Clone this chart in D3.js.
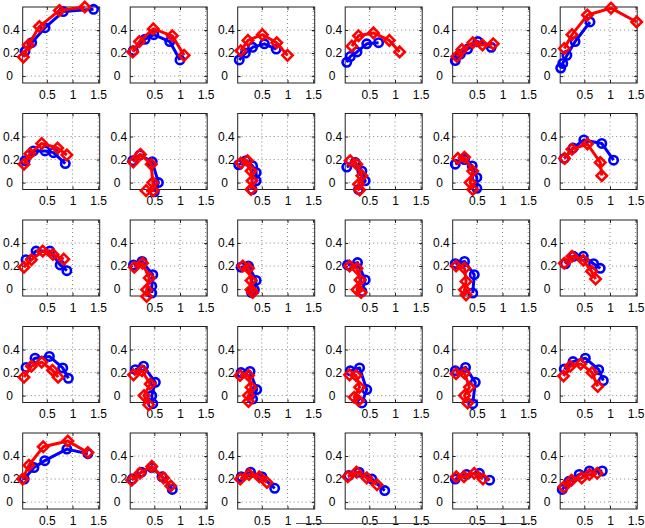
<!DOCTYPE html>
<html><head><meta charset="utf-8">
<script src="https://cdn.jsdelivr.net/npm/d3@7"></script>
<style>html,body{margin:0;padding:0;background:#fff}svg{display:block}</style>
</head><body>
<script>
const xTicks = [0.5, 1, 1.5];
const yTicks = [0, 0.2, 0.4];
const xDomain = [0.03, 1.53];
const yDomain = [-0.06, 0.6];

// blue series (circles), one array of [x,y] per panel, row by row
const blueData = [
  [[0.075,0.215],[0.205,0.29],[0.465,0.42],[0.82,0.56],[1.41,0.58]],
  [[0.09,0.22],[0.32,0.32],[0.49,0.36],[0.80,0.30],[1.0,0.14]],
  [[0.06,0.14],[0.18,0.20],[0.32,0.25],[0.55,0.28],[0.78,0.235]],
  [[0.06,0.12],[0.13,0.17],[0.26,0.21],[0.45,0.28],[0.68,0.29]],
  [[0.08,0.135],[0.18,0.19],[0.32,0.235],[0.52,0.30],[0.78,0.25]],
  [[0.04,0.07],[0.08,0.11],[0.16,0.18],[0.32,0.30],[0.61,0.47]],

  [[0.075,0.19],[0.24,0.275],[0.465,0.275],[0.63,0.26],[0.86,0.165]],
  [[0.08,0.19],[0.22,0.24],[0.46,0.18],[0.58,0.0],[0.50,-0.08]],
  [[0.05,0.155],[0.19,0.19],[0.32,0.145],[0.39,0.087],[0.39,0.015],[0.31,-0.06]],
  [[0.06,0.135],[0.225,0.175],[0.355,0.10],[0.42,0.015],[0.29,-0.06]],
  [[0.08,0.16],[0.26,0.20],[0.41,0.145],[0.50,0.045],[0.50,-0.05]],
  [[0.11,0.21],[0.28,0.30],[0.49,0.37],[0.84,0.34],[1.07,0.195]],

  [[0.095,0.255],[0.29,0.33],[0.56,0.33],[0.76,0.21],[0.89,0.16]],
  [[0.095,0.21],[0.26,0.24],[0.47,0.125],[0.45,0.025],[0.45,-0.035]],
  [[0.095,0.19],[0.24,0.20],[0.39,0.075],[0.355,-0.006],[0.30,-0.03]],
  [[0.075,0.21],[0.27,0.23],[0.42,0.08],[0.355,-0.02]],
  [[0.08,0.22],[0.26,0.24],[0.45,0.125],[0.42,-0.035]],
  [[0.13,0.22],[0.29,0.285],[0.48,0.285],[0.68,0.22],[0.81,0.18]],

  [[0.095,0.245],[0.27,0.325],[0.55,0.34],[0.81,0.24],[0.92,0.15]],
  [[0.13,0.225],[0.29,0.255],[0.52,0.115],[0.45,0.0],[0.47,-0.07]],
  [[0.095,0.20],[0.27,0.21],[0.40,0.052],[0.32,-0.03]],
  [[0.13,0.215],[0.31,0.24],[0.45,0.052],[0.355,-0.064]],
  [[0.08,0.215],[0.28,0.245],[0.47,0.115],[0.42,-0.07]],
  [[0.11,0.23],[0.28,0.295],[0.52,0.325],[0.78,0.225],[0.87,0.13]],

  [[0.06,0.2],[0.25,0.3],[0.46,0.36],[0.89,0.46],[1.3,0.42]],
  [[0.07,0.2],[0.25,0.26],[0.45,0.3],[0.65,0.22],[0.85,0.11]],
  [[0.1,0.22],[0.28,0.26],[0.5,0.22],[0.75,0.12]],
  [[0.1,0.23],[0.3,0.26],[0.55,0.2],[0.8,0.1]],
  [[0.08,0.2],[0.3,0.24],[0.55,0.25],[0.75,0.19]],
  [[0.07,0.11],[0.2,0.18],[0.4,0.24],[0.6,0.27],[0.85,0.27]]
];

// red series (diamonds)
const redData = [
  [[0.043,0.165],[0.14,0.27],[0.355,0.43],[0.745,0.57],[1.24,0.6]],
  [[0.08,0.21],[0.21,0.30],[0.48,0.41],[0.85,0.35],[1.08,0.18]],
  [[0.09,0.22],[0.23,0.31],[0.51,0.36],[0.79,0.29],[1.0,0.18]],
  [[0.16,0.26],[0.29,0.35],[0.58,0.375],[0.89,0.31],[1.09,0.21]],
  [[0.11,0.17],[0.21,0.23],[0.42,0.29],[0.61,0.27],[0.82,0.28]],
  [[0.11,0.24],[0.26,0.36],[0.56,0.53],[1.02,0.59],[1.52,0.47]],

  [[0.055,0.16],[0.17,0.25],[0.40,0.34],[0.71,0.30],[0.89,0.24]],
  [[0.09,0.18],[0.23,0.245],[0.44,0.16],[0.47,0.0],[0.48,-0.07],[0.34,-0.07]],
  [[0.09,0.17],[0.22,0.19],[0.29,0.10],[0.31,0.015],[0.29,-0.06]],
  [[0.125,0.19],[0.255,0.16],[0.355,0.06],[0.29,-0.015],[0.31,-0.065]],
  [[0.13,0.21],[0.26,0.22],[0.42,0.10],[0.37,0.0],[0.42,-0.06]],
  [[0.115,0.21],[0.26,0.29],[0.56,0.335],[0.81,0.175],[0.84,0.06]],

  [[0.055,0.19],[0.2,0.255],[0.42,0.33],[0.62,0.30],[0.83,0.26]],
  [[0.11,0.19],[0.27,0.225],[0.40,0.097],[0.35,-0.006],[0.35,-0.064]],
  [[0.13,0.2],[0.24,0.18],[0.29,0.075],[0.29,-0.006],[0.32,-0.03]],
  [[0.115,0.20],[0.26,0.18],[0.32,0.08],[0.26,-0.006],[0.34,-0.03]],
  [[0.095,0.20],[0.26,0.18],[0.29,0.067],[0.26,-0.006],[0.29,-0.05]],
  [[0.11,0.225],[0.26,0.285],[0.48,0.25],[0.64,0.155],[0.72,0.087]],

  [[0.055,0.16],[0.2,0.255],[0.4,0.29],[0.61,0.22],[0.72,0.16]],
  [[0.095,0.18],[0.26,0.215],[0.42,0.10],[0.30,0.0],[0.39,-0.08]],
  [[0.075,0.175],[0.24,0.175],[0.29,0.072],[0.24,0.0],[0.24,-0.052]],
  [[0.115,0.18],[0.24,0.175],[0.31,0.072],[0.205,-0.015],[0.29,-0.043]],
  [[0.095,0.19],[0.26,0.195],[0.355,0.072],[0.26,0.0],[0.32,-0.064]],
  [[0.095,0.17],[0.225,0.255],[0.43,0.275],[0.65,0.20],[0.76,0.08]],

  [[0.03,0.2],[0.15,0.32],[0.43,0.48],[0.91,0.53],[1.3,0.43]],
  [[0.06,0.19],[0.22,0.25],[0.45,0.31],[0.68,0.21],[0.82,0.14]],
  [[0.08,0.2],[0.25,0.24],[0.45,0.22],[0.6,0.17]],
  [[0.08,0.22],[0.25,0.26],[0.45,0.21],[0.65,0.15]],
  [[0.1,0.22],[0.25,0.22],[0.45,0.25],[0.62,0.2]],
  [[0.1,0.13],[0.25,0.19],[0.45,0.21],[0.6,0.24],[0.75,0.25]]
];

const W = 645, H = 528;
const nRows = 5, nCols = 6;
const col0 = 22.7, colStep = 107.5, pw = 77;
const row0 = 7, rowStep = 106.5, ph = 76;

const svg = d3.select("body").append("svg").attr("width", W).attr("height", H);

const x = d3.scaleLinear().domain(xDomain).range([0, pw]);
const y = d3.scaleLinear().domain(yDomain).range([ph, 0]);
const line = d3.line().x(d => x(d[0])).y(d => y(d[1]));
const diamond = r => `M0,${-r}L${r},0L0,${r}L${-r},0Z`;
const font = "'Liberation Sans', Arial, Helvetica, sans-serif";

for (let i = 0; i < nRows * nCols; i++) {
  const r = Math.floor(i / nCols), c = i % nCols;
  const g = svg.append("g").attr("transform", `translate(${col0 + c * colStep},${row0 + r * rowStep})`);

  // grid
  g.append("g").selectAll("line").data(xTicks).join("line")
    .attr("x1", d => x(d)).attr("x2", d => x(d)).attr("y1", 0).attr("y2", ph)
    .attr("stroke", "#666").attr("stroke-width", 0.8).attr("stroke-dasharray", "1,3");
  g.append("g").selectAll("line").data(yTicks).join("line")
    .attr("y1", d => y(d)).attr("y2", d => y(d)).attr("x1", 0).attr("x2", pw)
    .attr("stroke", "#666").attr("stroke-width", 0.8).attr("stroke-dasharray", "1,3");

  // axes
  g.append("g").attr("transform", `translate(0,${ph})`)
    .call(d3.axisBottom(x).tickValues(xTicks).tickSize(-3).tickPadding(7).tickFormat(d3.format("")));
  g.append("g")
    .call(d3.axisLeft(y).tickValues(yTicks).tickSize(-3).tickPadding(3)
      .tickFormat(d => d === 0 ? "0\u00a0\u00a0" : d3.format(".1f")(d)));
  g.append("g").call(d3.axisTop(x).tickValues(xTicks).tickSize(-3).tickFormat(""));
  g.append("g").attr("transform", `translate(${pw},0)`)
    .call(d3.axisRight(y).tickValues(yTicks).tickSize(-3).tickFormat(""));
  g.selectAll(".domain").remove();
  g.selectAll(".tick line").attr("stroke", "#222");
  g.selectAll(".tick text").attr("font-family", font).attr("font-size", 12).attr("fill", "#000");

  g.append("rect").attr("width", pw).attr("height", ph)
    .attr("fill", "none").attr("stroke", "#222").attr("stroke-width", 1);

  // series
  const blue = blueData[i], red = redData[i];
  g.append("path").datum(blue).attr("d", line)
    .attr("fill", "none").attr("stroke", "#0000ff").attr("stroke-width", 3).attr("stroke-linejoin", "round");
  g.append("g").selectAll("circle").data(blue).join("circle")
    .attr("cx", d => x(d[0])).attr("cy", d => y(d[1])).attr("r", 4.2)
    .attr("fill", "none").attr("stroke", "#0000ff").attr("stroke-width", 2.6);
  g.append("path").datum(red).attr("d", line)
    .attr("fill", "none").attr("stroke", "#ff0000").attr("stroke-width", 3).attr("stroke-linejoin", "round");
  g.append("g").selectAll("path").data(red).join("path")
    .attr("transform", d => `translate(${x(d[0])},${y(d[1])})`).attr("d", diamond(5.2))
    .attr("fill", "none").attr("stroke", "#ff0000").attr("stroke-width", 2.6);
}

// thin rule under the bottom tick labels seen in the reference
svg.append("line").attr("x1", 296).attr("x2", 530).attr("y1", 523.5).attr("y2", 523.5)
  .attr("stroke", "#555").attr("stroke-width", 1);
</script>
</body></html>
